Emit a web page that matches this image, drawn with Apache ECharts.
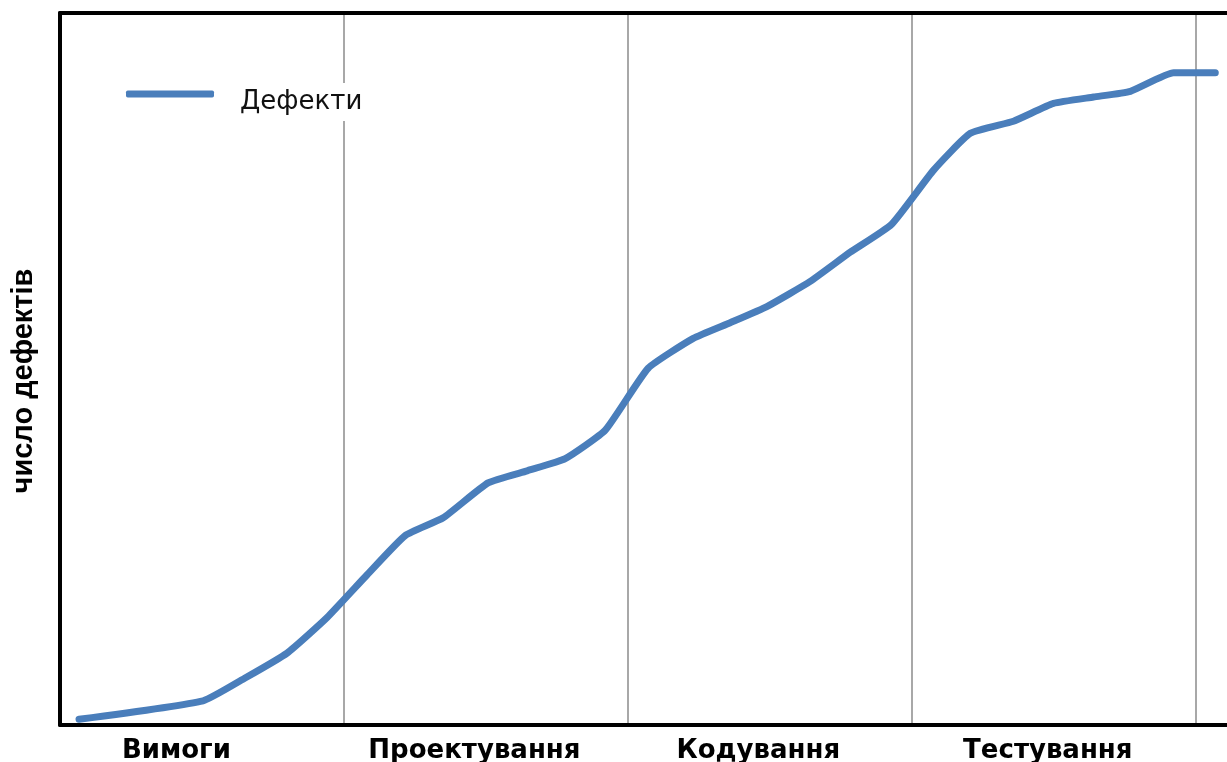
<!DOCTYPE html>
<html>
<head>
<meta charset="utf-8">
<script src="https://cdn.jsdelivr.net/npm/echarts@6/dist/echarts.min.js"></script>
<style>
  html, body { margin: 0; padding: 0; background: #fff; }
  #chart { width: 1227px; height: 762px; }
</style>
</head>
<body>
<div id="chart"></div>
<script>
// Project phases along the x axis (one unit per phase)
const phases = ['Вимоги', 'Проектування', 'Кодування', 'Тестування'];
// Where each phase name sits on the phase scale
const phaseLabelAt = [0.41, 1.46, 2.46, 3.48];

// Cumulative defect count curve: position in phases, relative count (0–100)
const progress = [0.067, 0.504, 0.652, 0.800, 0.941, 1.082, 1.216, 1.350, 1.508, 1.646,
                  1.780, 1.921, 2.072, 2.231, 2.361, 2.492, 2.643, 2.784, 2.929, 3.077,
                  3.207, 3.359, 3.500, 3.641, 3.771, 3.923, 4.070];
const defects  = [0.8, 3.4, 6.6, 10.1, 15.1, 21.1, 26.6, 29.1, 34.0, 35.7,
                  37.4, 41.4, 50.1, 54.3, 56.5, 58.8, 62.3, 66.4, 70.3, 77.9,
                  83.1, 84.8, 87.3, 88.2, 89.0, 91.6, 91.6];

const seriesName = 'Дефекти';
const yTitle = 'число дефектів';

const chart = echarts.init(document.getElementById('chart'), null, { renderer: 'canvas' });

const font = '"Liberation Sans", Arial, sans-serif';
const wideFont = '"DejaVu Sans", "Liberation Sans", Arial, sans-serif';

chart.setOption({
  animation: false,
  backgroundColor: '#ffffff',
  grid: { left: 60, top: 13, width: 1178, height: 712, containLabel: false, outerBoundsMode: 'none' },
  legend: {
    left: 120,
    top: 83,
    padding: [6, 18, 6, 6],
    backgroundColor: '#ffffff',
    icon: 'roundRect',
    itemWidth: 88,
    itemHeight: 7,
    formatter: '{t|{name}}',
    textStyle: {
      fontFamily: wideFont, fontSize: 26, color: '#111',
      rich: { t: { fontFamily: wideFont, fontSize: 26, color: '#111', padding: [16, 0, 0, 21] } }
    },
    data: [seriesName]
  },
  xAxis: [
    {
      type: 'value',
      min: 0,
      max: 4.15,
      interval: 1,
      position: 'bottom',
      axisLine: { show: true, onZero: false, lineStyle: { color: '#000', width: 4 } },
      axisTick: { show: false },
      splitLine: { show: true, lineStyle: { color: '#a8a8a8', width: 2 } },
      axisLabel: {
        show: true,
        customValues: phaseLabelAt,
        margin: 13,
        fontFamily: wideFont,
        fontSize: 26,
        fontWeight: 'bold',
        color: '#000',
        formatter: function (v) {
          const i = phaseLabelAt.indexOf(v);
          return i >= 0 ? phases[i] : '';
        }
      }
    },
    {
      type: 'value',
      min: 0,
      max: 4.15,
      position: 'top',
      axisLine: { show: true, onZero: false, lineStyle: { color: '#000', width: 4 } },
      axisTick: { show: false },
      axisLabel: { show: false },
      splitLine: { show: false }
    }
  ],
  yAxis: {
    type: 'value',
    min: 0,
    max: 100,
    name: yTitle,
    nameLocation: 'middle',
    nameRotate: 90,
    nameGap: 22,
    nameTextStyle: { fontFamily: font, fontSize: 29, fontWeight: 'bold', color: '#000', padding: [0, 24, 0, 0] },
    axisLine: { show: true, onZero: false, lineStyle: { color: '#000', width: 4 } },
    axisTick: { show: false },
    axisLabel: { show: false },
    splitLine: { show: false }
  },
  series: [
    {
      name: seriesName,
      type: 'line',
      xAxisIndex: 0,
      data: progress.map((x, i) => [x, defects[i]]),
      showSymbol: false,
      symbol: 'none',
      smooth: 0.15,
      color: '#4a7ebb',
      lineStyle: { color: '#4a7ebb', width: 7, cap: 'round', join: 'round' }
    }
  ]
});
</script>
</body>
</html>
